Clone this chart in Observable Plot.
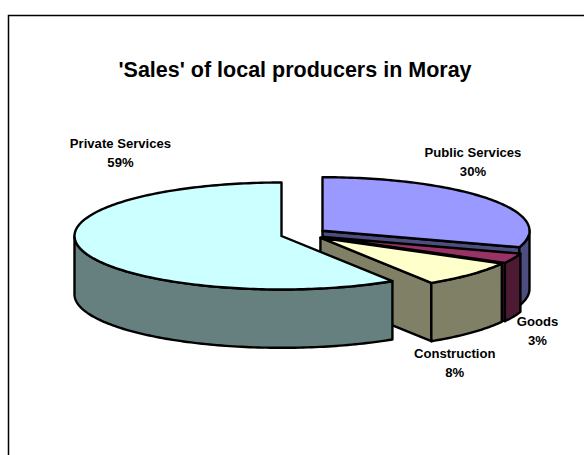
<!DOCTYPE html>
<html><head><meta charset="utf-8">
<style>html,body{margin:0;padding:0;background:#fff}svg{display:block}</style>
<script src="https://cdn.jsdelivr.net/npm/d3@7"></script>
<script src="https://cdn.jsdelivr.net/npm/@observablehq/plot@0.6"></script>
</head><body><script>
// Data, clockwise from twelve o'clock
const categories = ["Public Services","Goods","Construction","Private Services"];
const shares = [30,3,8,59];
const topColors = ["#9999ff","#993366","#ffffcc","#ccffff"];
const wallColors = ["#4d4d80","#4d1a33","#808066","#668080"];
// Pie-space: unit radius; the scales flatten the circle to the ellipse
const offsetX = [0.198,0.203,0.188,0];
const offsetY = [-0.099,0.02,0.032,0];
const depth = 1.09;
const labelX = [0.925,1.237,0.837,-0.778];
const labelY = [-1.41,1.75,2.35,-1.58];

const cum = d3.cumsum(shares);
const slices = categories.map((name,i)=>({name,i,
  a0:(cum[i]-shares[i])/100*2*Math.PI, a1:cum[i]/100*2*Math.PI,
  cx:offsetX[i], cy:offsetY[i]}));
function pt(s,a,dz=0){return {x:s.cx+Math.sin(a),y:s.cy-Math.cos(a)+dz};}
function arc(s,a0,a1,dz=0){const n=Math.max(2,Math.ceil(Math.abs(a1-a0)/0.02));
  return d3.range(n+1).map(k=>pt(s,a0+(a1-a0)*k/n,dz));}
const close = p=>[...p,p[0]];
const opts = (fill)=>({x:"x",y:"y",fill,stroke:"#000",strokeWidth:2.4,strokeLinejoin:"round",curve:"linear"});
function poly(p,fill){return Plot.line(close(p),opts(fill));}
function sliceMarks(s){
  const m=[], c={x:s.cx,y:s.cy};
  const vis0=Math.max(s.a0,Math.PI/2), vis1=Math.min(s.a1,3*Math.PI/2);
  if(s.a1<Math.PI) m.push(poly([c,pt(s,s.a1),pt(s,s.a1,depth),{x:s.cx,y:s.cy+depth}],wallColors[s.i]));
  if(vis1>vis0) m.push(poly([...arc(s,vis0,vis1),...arc(s,vis1,vis0,depth)],wallColors[s.i]));
  m.push(poly([c,...arc(s,s.a0,s.a1)],topColors[s.i]));
  return m;
}
const plot = Plot.plot({
  width:584,height:455,margin:0,
  x:{domain:[-1,1],range:[74,488],axis:null},
  y:{domain:[-1,1],range:[182,289],axis:null},
  marks:[
    Plot.frame({stroke:"#000",strokeWidth:1.5,insetLeft:8,insetTop:15,insetRight:-10,insetBottom:-10}),
    ...slices.flatMap(sliceMarks),
    Plot.text(["'Sales' of local producers in Moray"],{frameAnchor:"top",dy:61,dx:2.5,fontSize:21.5,fontWeight:"bold",fontFamily:"Liberation Sans",fill:"#000"}),
    Plot.text(categories.map((c,i)=>({x:labelX[i],y:labelY[i],t:c+"\n"+shares[i]+"%"})),
      {x:"x",y:"y",text:"t",fontSize:13.1,fontWeight:"bold",fontFamily:"Liberation Sans",fill:"#000",lineHeight:1.45})
  ]
});
document.body.appendChild(plot);
</script></body></html>
